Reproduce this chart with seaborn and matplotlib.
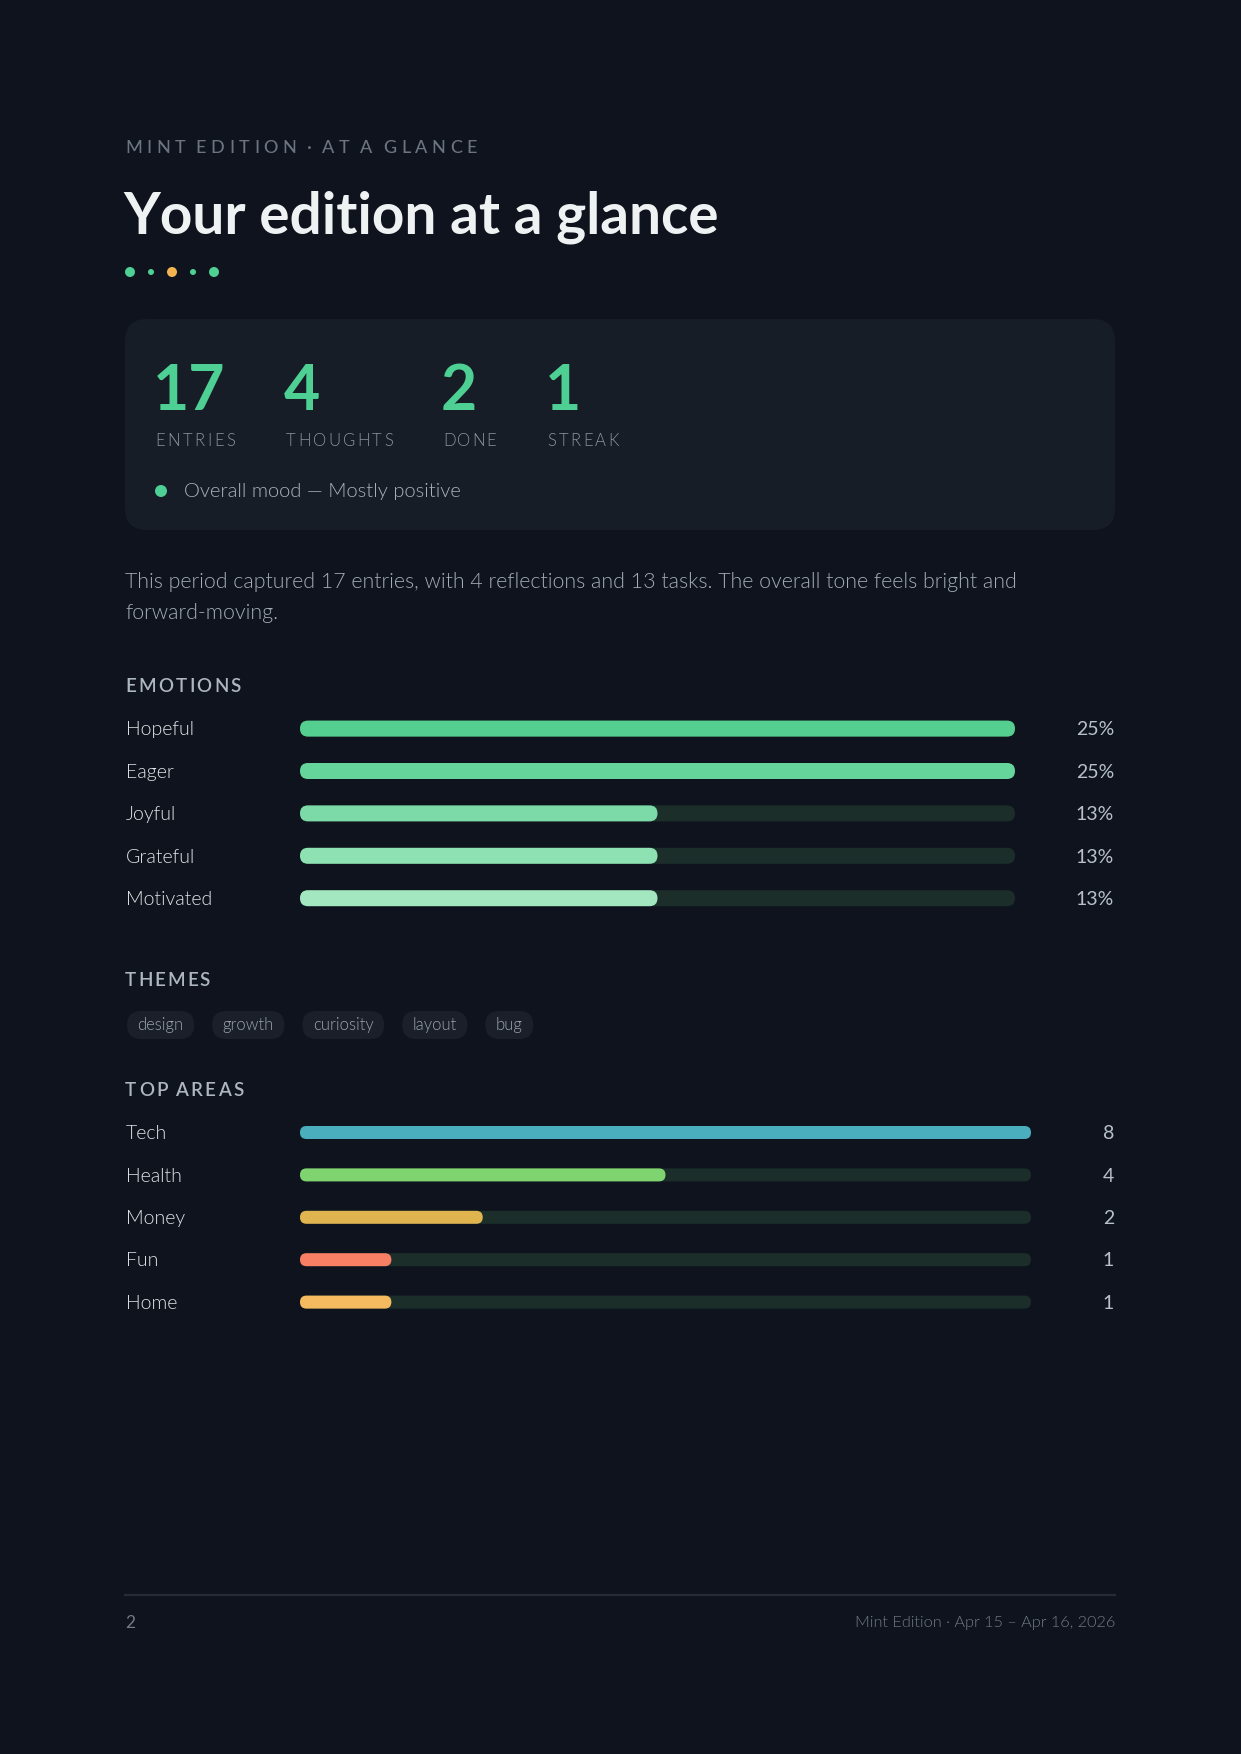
import matplotlib
matplotlib.use("Agg")
import matplotlib.pyplot as plt
import pandas as pd
import seaborn as sns
from matplotlib.patches import FancyBboxPatch, Circle
from matplotlib.transforms import blended_transform_factory

# --- data ---
stat_values = [17, 4, 2, 1]
stat_labels = ["ENTRIES", "THOUGHTS", "DONE", "STREAK"]

emotions = ["Hopeful", "Eager", "Joyful", "Grateful", "Motivated"]
emotion_counts = [4, 4, 2, 2, 2]
emotion_pct = [25, 25, 13, 13, 13]
emotion_colors = ["#55cf8f", "#66d59b", "#7bdaa7", "#8ee1b2", "#a2e7c0"]

themes = ["design", "growth", "curiosity", "layout", "bug"]

areas = ["Tech", "Health", "Money", "Fun", "Home"]
area_counts = [8, 4, 2, 1, 1]
area_colors = ["#4aaebf", "#80d46f", "#e0b44f", "#f87e64", "#f5b95f"]

# --- style ---
W, H = 1241, 1754
BG = "#0e131d"
CARD = "#171d27"
TRACK = "#1b2e2a"
MINT = "#4ecf94"
LIGHT = 300
plt.rcParams["font.family"] = ["Lato", "DejaVu Sans"]

fig = plt.figure(figsize=(W / 100, H / 100), dpi=100, facecolor=BG)
bg = fig.add_axes([0, 0, 1, 1])
bg.set_xlim(0, W)
bg.set_ylim(H, 0)
bg.axis("off")
r = fig.canvas.get_renderer()


def fit(x, y, s, width, size=12, **kw):
    # scale font so the text is `width` px wide
    t = bg.text(x, y, s, fontsize=size, **kw)
    w = t.get_window_extent(r).width
    t.set_fontsize(size * width / w)
    return t


def tracked(x, y, s, size, width, color, weight="normal"):
    # letter-spaced caps, spacing chosen to fill `width`
    widths = []
    for ch in s:
        if ch == " ":
            widths.append(size * 0.08 * 100 / 72)
            continue
        t = bg.text(0, 0, ch, fontsize=size, weight=weight)
        widths.append(t.get_window_extent(r).width)
        t.remove()
    gap = (width - sum(widths)) / (len(s) - 1)
    cx = x
    for ch, w in zip(s, widths):
        if ch != " ":
            bg.text(cx, y, ch, fontsize=size, weight=weight, color=color,
                    ha="left", va="baseline")
        cx += w + gap


# header
tracked(125, 153, "MINT EDITION · AT A GLANCE", 13, 352, "#6b7480", weight="medium")
fit(123, 234, "Your edition at a glance", 596, size=40, weight="bold",
    color="#eef2f3", va="baseline")
for x, rad, c in [(130, 5, MINT), (151, 3, MINT), (172, 5, "#f2b451"),
                  (193, 3, MINT), (214, 5, MINT)]:
    bg.add_patch(Circle((x, 272), rad, color=c, lw=0))

# stats card
bg.add_patch(FancyBboxPatch((125, 319), 990, 211,
                            boxstyle="round,pad=0,rounding_size=22",
                            fc=CARD, ec="none"))
stat_x = [153, 284, 441, 545]
for x, v, lab, lw in zip(stat_x, stat_values, stat_labels, [80, 107, 53, 72]):
    bg.text(x, 410, str(v), fontsize=45, weight="bold", color=MINT,
            ha="left", va="baseline")
    tracked(x + 2, 446, lab, 12, lw, "#8b949f", weight=LIGHT)
bg.add_patch(Circle((161, 491), 6, color=MINT, lw=0))
fit(184, 491, "Overall mood — Mostly positive", 277, weight=LIGHT,
    color="#aab2bb", va="center")

# summary paragraph
p1 = fit(125, 582, "This period captured 17 entries, with 4 reflections and 13 tasks. "
         "The overall tone feels bright and", 892, weight=LIGHT,
         color="#a4acb6", va="center")
bg.text(125, 613, "forward-moving.", fontsize=p1.get_fontsize(), weight=LIGHT,
        color="#a4acb6", va="center")

ROW = 42.4


def bar_block(top, left, right, labels, counts, colors, bar_px, values, title, title_y,
              title_w):
    tracked(125, title_y, title, 13.5, title_w, "#aeb6c0", weight="semibold")
    n = len(labels)
    px_w, px_h = right - left, n * ROW
    ax = fig.add_axes([left / W, 1 - (top + px_h) / H, px_w / W, px_h / H])
    vmax = max(counts)
    df = pd.DataFrame({"label": labels, "count": counts, "track": [vmax] * n})
    sns.barplot(data=df, x="track", y="label", order=labels, color=TRACK,
                width=bar_px / ROW, saturation=1, errorbar=None, ax=ax)
    sns.barplot(data=df, x="count", y="label", order=labels, hue="label",
                hue_order=labels, palette=colors, width=bar_px / ROW,
                saturation=1, errorbar=None, legend=False, ax=ax)
    ax.set_xlim(0, vmax)
    ax.set_ylim(n - 0.5, -0.5)
    ax.axis("off")

    # pill-shaped bars
    aspect = n * px_w / (px_h * vmax)
    rad = bar_px / 2 * vmax / px_w
    for p in list(ax.patches):
        x, y, w, h = p.get_x(), p.get_y(), p.get_width(), p.get_height()
        fc = p.get_facecolor()
        p.remove()
        ax.add_patch(FancyBboxPatch((x, y), w, h,
                                    boxstyle=f"round,pad=0,rounding_size={rad}",
                                    mutation_aspect=aspect, fc=fc, ec="none", lw=0))

    tr = blended_transform_factory(bg.transData, ax.transData)
    for i, (lab, val) in enumerate(zip(labels, values)):
        ax.text(126, i + 0.03, lab, transform=tr, fontsize=14, weight=LIGHT,
                color="#e2e6ea", ha="left", va="center")
        ax.text(1114, i + 0.03, val, transform=tr, fontsize=14, color="#b8c0c8",
                ha="right", va="center")


bar_block(728.6 - ROW / 2, 300, 1015, emotions, emotion_counts, emotion_colors, 16,
          [f"{p}%" for p in emotion_pct], "EMOTIONS", 692, 116)

# themes chips
tracked(125, 986, "THEMES", 13.5, 85, "#aeb6c0", weight="semibold")
cx = 127
for th in themes:
    t = bg.text(0, 0, th, fontsize=12, weight=LIGHT)
    tw = t.get_window_extent(r).width
    t.remove()
    cw = tw + 21
    bg.add_patch(FancyBboxPatch((cx, 1011), cw, 28,
                                boxstyle="round,pad=0,rounding_size=14",
                                fc="#1a1f2a", ec="none"))
    bg.text(cx + cw / 2, 1025, th, fontsize=12, weight=LIGHT, color="#9aa3ad",
            ha="center", va="center")
    cx += cw + 18

bar_block(1132.5 - ROW / 2, 300, 1031, areas, area_counts, area_colors, 13,
          [str(c) for c in area_counts], "TOP AREAS", 1096, 119)

# footer
bg.plot([125, 1115], [1595, 1595], color="#262c37", lw=1.5)
bg.text(125, 1623, "2", fontsize=12.5, color="#737b86", va="center")
fit(1115, 1623, "Mint Edition · Apr 15 – Apr 16, 2026", 259, weight=LIGHT,
    color="#737b86", ha="right", va="center")

fig.savefig("out.png", dpi=100, facecolor=BG)
